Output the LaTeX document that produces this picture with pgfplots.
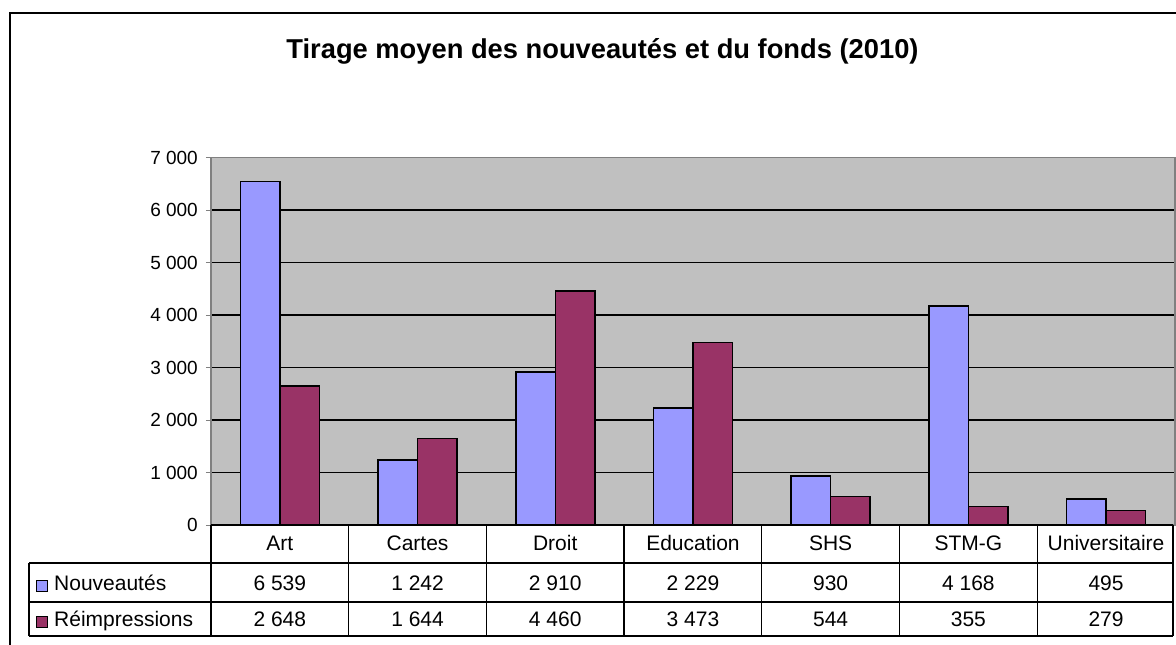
\documentclass[border=0pt]{standalone}
\usepackage{fontspec}
\setmainfont{Liberation Sans}
\usepackage{pgfplots}
\pgfplotsset{compat=1.18}
\definecolor{bblue}{HTML}{9999FF}
\definecolor{bred}{HTML}{993366}
\definecolor{pgray}{HTML}{C0C0C0}
\begin{document}
\begin{tikzpicture}
\useasboundingbox (0pt,0pt) rectangle (1176pt,-645pt);
\draw[line width=2pt] (10pt,-660pt) -- (10pt,-13pt) -- (1190pt,-13pt);
\node[font=\bfseries\fontsize{27.3}{30}\selectfont] at (602.5pt,-51pt) {Tirage moyen des nouveautés et du fonds (2010)};
\begin{axis}[
  at={(211pt,-525pt)}, anchor=south west,
  scale only axis, width=964pt, height=367.5pt,
  xmin=-0.5, xmax=6.5, ymin=0, ymax=7000,
  ybar=0pt, bar width=39.5pt,
  xtick=\empty,
  ytick={0,1000,2000,3000,4000,5000,6000,7000},
  yticklabels={0,1 000,2 000,3 000,4 000,5 000,6 000,7 000},
  tick align=outside, major tick length=5pt,
  tick style={draw=gray, line width=1pt},
  ytick pos=left,
  ymajorgrids, grid style={black, line width=1.5pt},
  axis background/.style={fill=pgray},
  axis line style={draw=gray, line width=1.3pt},
  yticklabel style={font=\fontsize{19}{21}\selectfont, anchor=east, inner sep=0pt, xshift=-8pt},
  every axis plot/.append style={draw=black, line width=1.5pt},
]
\addplot[fill=bblue] coordinates {(0,6539) (1,1242) (2,2910) (3,2229) (4,930) (5,4168) (6,495)};
\addplot[fill=bred] coordinates {(0,2648) (1,1644) (2,4460) (3,3473) (4,544) (5,355) (6,279)};
\end{axis}
% data table
\begin{scope}[x=1pt, y=-1pt, line width=1.3pt]
\draw (211,525) -- (1173,525);
\foreach \yy in {563,602,636} \draw (29,\yy) -- (1173,\yy);
\draw (29,563) -- (29,636);
\foreach \k in {0,...,6} \draw ({211+\k*137.7},525) -- ({211+\k*137.7},636);
\draw (1173,525) -- (1173,636);
\end{scope}
\begin{scope}[x=1pt, y=-1pt, every node/.style={font=\fontsize{21}{24}\selectfont, inner sep=0pt}]
\foreach \lab [count=\i from 0] in {Art,Cartes,Droit,Education,SHS,STM-G,Universitaire}
  \node[anchor=base] at ({211+(\i+0.5)*137.7},550) {\lab};
\foreach \lab [count=\i from 0] in {6 539,1 242,2 910,2 229,930,4 168,495}
  \node[anchor=base] at ({211+(\i+0.5)*137.7},590.5) {\lab};
\foreach \lab [count=\i from 0] in {2 648,1 644,4 460,3 473,544,355,279}
  \node[anchor=base] at ({211+(\i+0.5)*137.7},626.5) {\lab};
\draw[fill=bblue, line width=0.8pt] (36,580) rectangle (47,591);
\draw[fill=bred, line width=0.8pt] (36,616) rectangle (47,627);
\node[anchor=base west] at (54,590.5) {Nouveautés};
\node[anchor=base west] at (54,626.5) {Réimpressions};
\end{scope}
\end{tikzpicture}
\end{document}
